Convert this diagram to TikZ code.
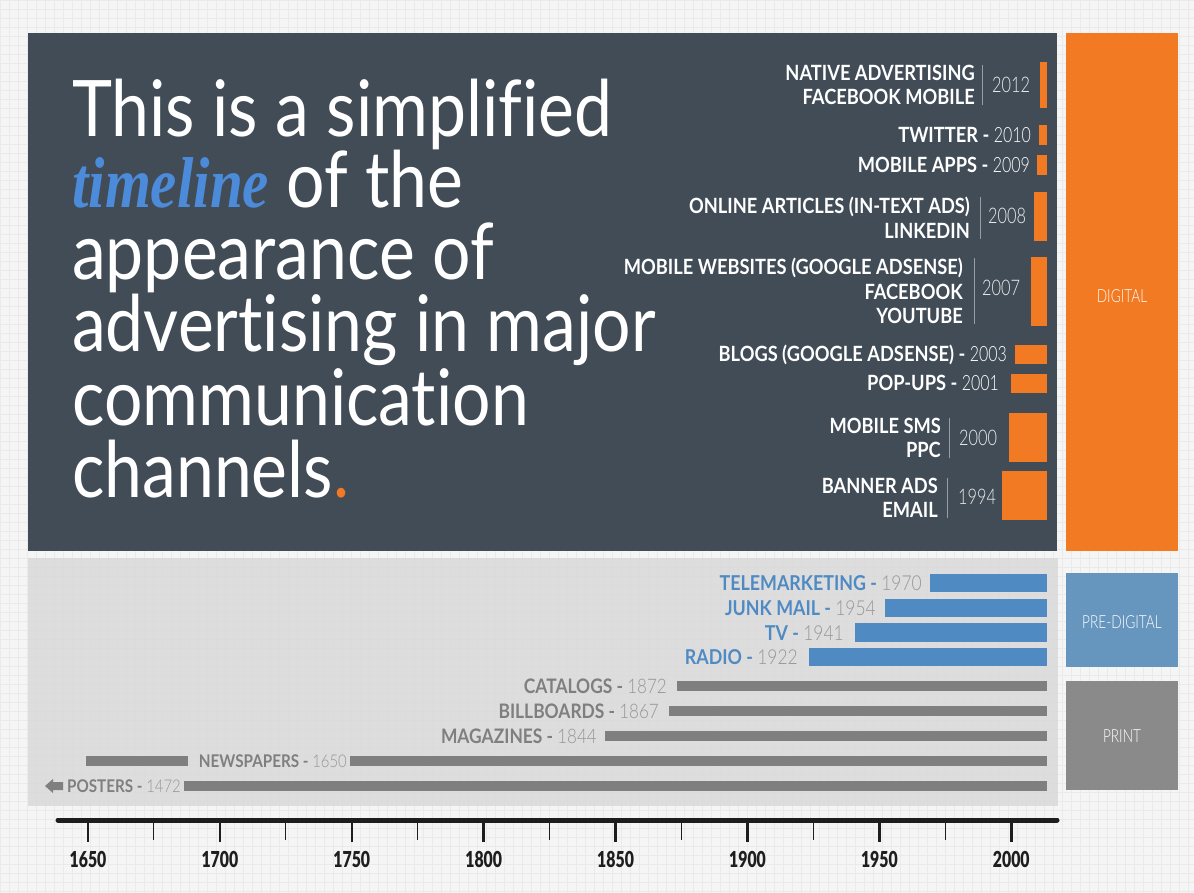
\documentclass[tikz,border=0pt]{standalone}
\usepackage{fontspec}
\setmainfont{Lato}[FakeStretch=0.87,Ligatures=NoCommon]
\newfontfamily\yearfont{Lato Light}[FakeStretch=0.76]
\newfontfamily\lyearfont{Lato Light}[FakeStretch=0.85]
\newfontfamily\axisfont{Lato Black}
\newfontfamily\slabfont{Liberation Serif}[FakeStretch=0.82]

\definecolor{slate}{HTML}{414C57}
\definecolor{adorange}{HTML}{F27A22}
\definecolor{adblue}{HTML}{4F8AC3}
\definecolor{boxblue}{HTML}{6695BE}
\definecolor{printgrey}{HTML}{8A8A8A}
\definecolor{bargrey}{HTML}{7F7F7F}
\definecolor{yeargrey}{HTML}{969696}
\definecolor{panelgrey}{HTML}{D9D9D9}
\definecolor{paper}{HTML}{F5F5F5}
\definecolor{gridcol}{HTML}{EAEAEA}
\definecolor{titleblue}{HTML}{4C8BDA}
\definecolor{axisblack}{HTML}{1E1E1E}

\newcommand{\yr}[1]{{\yearfont\mdseries #1}}
\newcommand{\lyr}[1]{\textcolor{yeargrey}{\lyearfont\mdseries #1}}

\begin{document}
\begin{tikzpicture}[x=1pt,y=-1pt,
  digi/.style={anchor=east,inner sep=0pt,align=right,text=white,font=\fontsize{21}{24.5}\selectfont\bfseries},
  yearlbl/.style={anchor=west,inner sep=0pt,text=white!90!slate,font=\fontsize{21.5}{24}\selectfont\yearfont},
  sepline/.style={draw=white!45!slate,line width=0.8pt},
  bluelbl/.style={anchor=east,inner sep=0pt,text=adblue,font=\fontsize{20.5}{24}\selectfont\bfseries},
  greylbl/.style={anchor=east,inner sep=0pt,text=bargrey,font=\fontsize{20}{24}\selectfont\bfseries},
  boxlbl/.style={inner sep=0pt,text=white,font=\fontsize{18}{20}\selectfont\yearfont},
  titleline/.style={anchor=base west,inner sep=0pt,text height=58pt,text depth=12pt,text=white,font=\fontsize{78}{72}\selectfont},
  axislbl/.style={inner sep=0pt,text=axisblack,font=\fontsize{22}{24}\selectfont\axisfont}]
\useasboundingbox (0,0) rectangle (1194,893);
\fill[paper] (0,0) rectangle (1194,893);
\draw[gridcol,line width=0.4pt] (0,0) grid[step=9pt] (1194,893);

\fill[slate] (28,33) rectangle (1057,551);
\fill[adorange] (1066,33) rectangle (1178,551);
\fill[panelgrey,opacity=0.85] (28,558) rectangle (1058,806);
\fill[boxblue] (1066,573) rectangle (1178,667);
\fill[printgrey] (1066,681) rectangle (1178,790);

\node[boxlbl] (digital) at (1122,296) {DIGITAL};
\node[boxlbl] (predigital) at (1122,622) {PRE-DIGITAL};
\node[boxlbl] (print) at (1122,736) {PRINT};

\node[titleline] (title1) at (72,137) {This is a simplified};
\node[titleline] (title2) at (72,208) {\textcolor{titleblue}{\slabfont\bfseries\itshape\fontsize{72}{72}\selectfont timeline} of the};
\node[titleline] (title3) at (72,280) {appearance of};
\node[titleline] (title4) at (72,352) {advertising in major};
\node[titleline] (title5) at (72,425) {communication};
\node[titleline] (title6) at (72,497) {channels\textcolor{adorange}{.}};

\fill[adorange] (1040,62) rectangle (1047,108);
\fill[adorange] (1039,125) rectangle (1047,145);
\fill[adorange] (1037,155) rectangle (1047,175);
\fill[adorange] (1034,192) rectangle (1047,241);
\fill[adorange] (1031,257) rectangle (1047,326);
\fill[adorange] (1015,345) rectangle (1047,364);
\fill[adorange] (1011,374) rectangle (1047,393);
\fill[adorange] (1009,413) rectangle (1047,462);
\fill[adorange] (1002,471) rectangle (1047,520);

\node[digi] (native) at (975,85) {NATIVE ADVERTISING\\FACEBOOK MOBILE};
\draw[sepline] ([xshift=7pt]native.north east) -- ([xshift=7pt]native.south east);
\node[yearlbl] (y2012) at (992,85) {2012};
\node[digi] (twitter) at (1031,135) {TWITTER - \yr{2010}};
\node[digi] (apps) at (1030,165) {MOBILE APPS - \yr{2009}};
\node[digi] (articles) at (970,218) {ONLINE ARTICLES (IN-TEXT ADS)\\LINKEDIN};
\draw[sepline] ([xshift=10pt]articles.north east) -- ([xshift=10pt]articles.south east);
\node[yearlbl] (y2008) at (988,216) {2008};
\node[digi] (websites) at (963,291) {MOBILE WEBSITES (GOOGLE ADSENSE)\\FACEBOOK\\YOUTUBE};
\draw[sepline] ([xshift=11pt]websites.north east) -- ([xshift=11pt]websites.south east);
\node[yearlbl] (y2007) at (982,288) {2007};
\node[digi] (blogs) at (1007,355) {BLOGS (GOOGLE ADSENSE) - \yr{2003}};
\node[digi] (popups) at (999,383) {POP-UPS - \yr{2001}};
\node[digi] (sms) at (941,438) {MOBILE SMS\\PPC};
\draw[sepline] ([xshift=8pt]sms.north east) -- ([xshift=8pt]sms.south east);
\node[yearlbl] (y2000) at (959,438) {2000};
\node[digi] (banner) at (938,498) {BANNER ADS\\EMAIL};
\draw[sepline] ([xshift=9pt]banner.north east) -- ([xshift=9pt]banner.south east);
\node[yearlbl] (y1994) at (958,497) {1994};

\fill[adblue] (930,574) rectangle (1047,592);
\fill[adblue] (885,599) rectangle (1047,617);
\fill[adblue] (855,623) rectangle (1047,642);
\fill[adblue] (809,648) rectangle (1047,666);
\node[bluelbl] (tele) at (922,583) {TELEMARKETING - \lyr{1970}};
\node[bluelbl] (junk) at (876,608) {JUNK MAIL - \lyr{1954}};
\node[bluelbl] (tv) at (844,633) {TV - \lyr{1941}};
\node[bluelbl] (radio) at (798,657) {RADIO - \lyr{1922}};

\fill[bargrey] (677,681) rectangle (1047,691);
\fill[bargrey] (669,706) rectangle (1047,716);
\fill[bargrey] (605,731) rectangle (1047,741);
\fill[bargrey] (86,756) rectangle (188,766);
\fill[bargrey] (350,756) rectangle (1047,766);
\fill[bargrey] (184,781) rectangle (1047,791);
\fill[bargrey] (63,782) -- (53,782) -- (53,779) -- (45,786) -- (53,793) -- (53,790) -- (63,790) -- cycle;
\node[greylbl] (catalogs) at (667,686) {CATALOGS - \lyr{1872}};
\node[greylbl] (billboards) at (659,711) {BILLBOARDS - \lyr{1867}};
\node[greylbl] (magazines) at (597,736) {MAGAZINES - \lyr{1844}};
\node[greylbl,font=\fontsize{17.5}{20}\selectfont\bfseries] (newspapers) at (347,761) {NEWSPAPERS - \lyr{1650}};
\node[greylbl,font=\fontsize{17.5}{20}\selectfont\bfseries] (posters) at (181,786) {POSTERS - \lyr{1472}};

\coordinate (axl) at (58,820);
\coordinate (axr) at (1057,820);
\draw[axisblack,line width=5pt,line cap=round] (axl) -- (axr);
\foreach \yy in {1650,1700,...,2000} {
  \draw[axisblack,line width=2.5pt] ({88+(\yy-1650)*2.638},820) -- ++(0,22);
  \node[axislbl] (lbl\yy) at ({88+(\yy-1650)*2.638},859) {\scalebox{0.72}[1]{\yy}};
}
\foreach \yy in {1675,1725,...,1975}
  \draw[axisblack,line width=1pt] ({88+(\yy-1650)*2.638},820) -- ++(0,20);
\end{tikzpicture}
\end{document}
